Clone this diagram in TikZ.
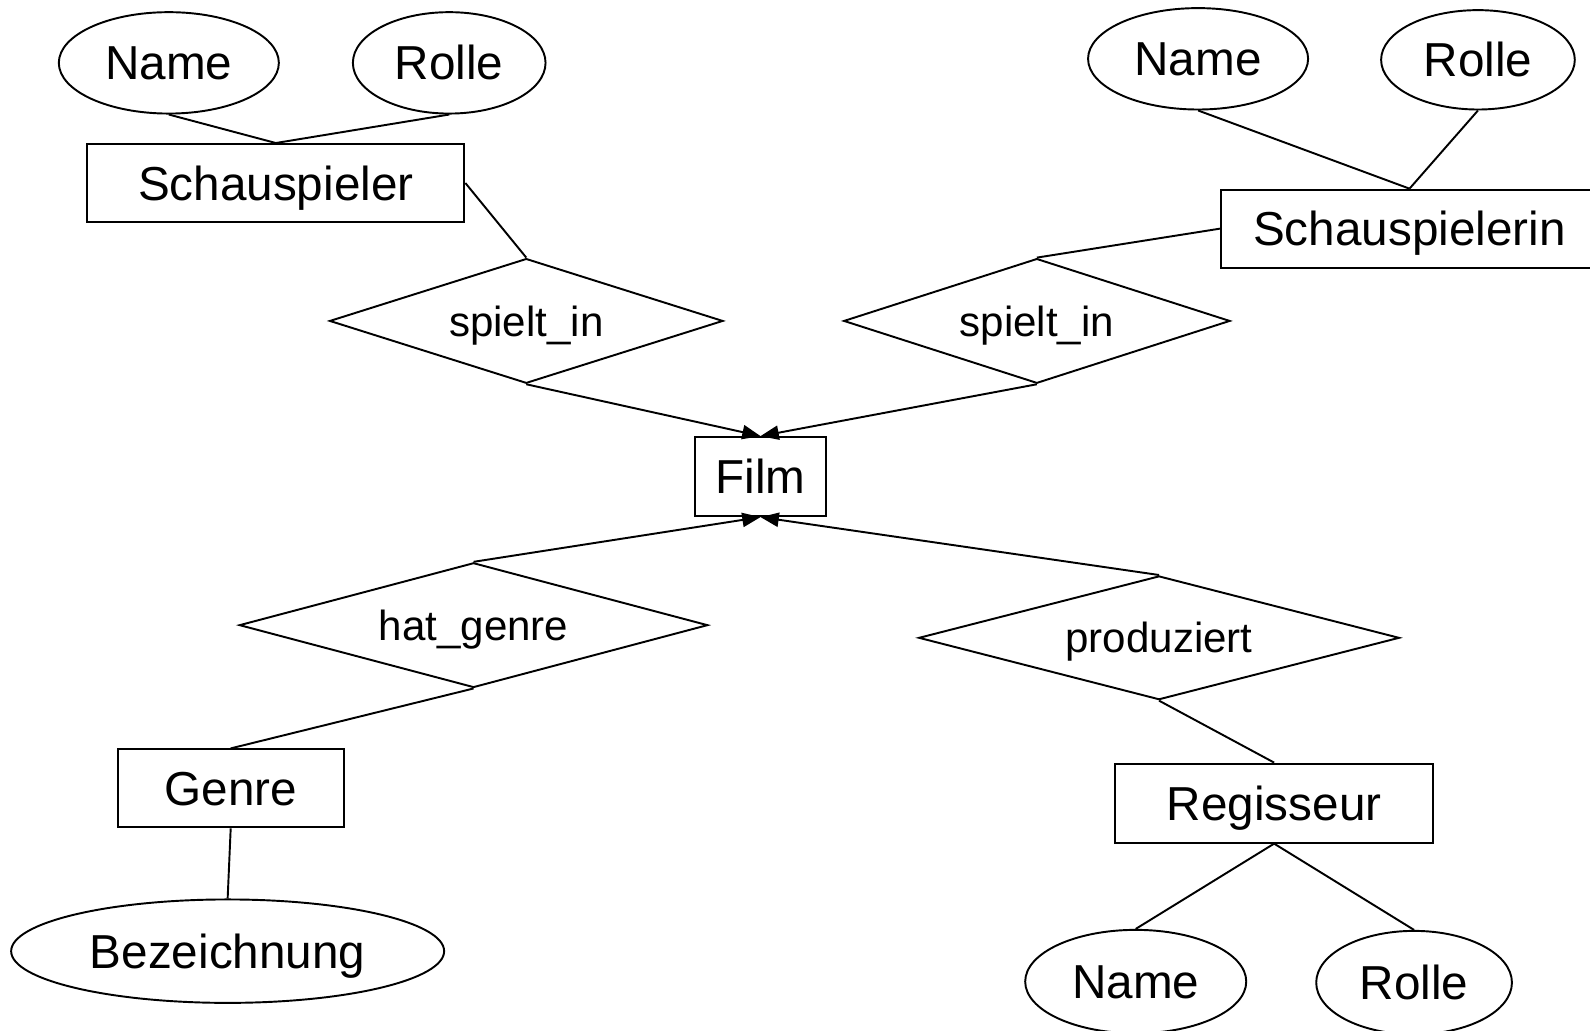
\documentclass[tikz,border=0pt]{standalone}
\usepackage{fontspec}
\setmainfont{Liberation Sans}
\usetikzlibrary{shapes.geometric,arrows.meta}
\tikzset{
  base/.style={draw, line width=0.95pt, inner sep=0pt, text depth=0pt, align=center},
  big/.style={font=\fontsize{23.5pt}{28pt}\selectfont, text height=16.8pt},
  small/.style={font=\fontsize{20.75pt}{25pt}\selectfont, text height=14.9pt},
  entity/.style={base, big, rectangle},
  attr/.style={base, big, ellipse},
  rel/.style={base, small, diamond, aspect=3.15},
  conn/.style={line width=0.95pt},
  arr/.style={line width=0.95pt, -{Triangle[length=9pt,width=7pt]}}
}
\begin{document}
\begin{tikzpicture}[x=0.5pt,y=-0.5pt]
\useasboundingbox (0,0) rectangle (1568,1016);
\node[attr, minimum width=108.5pt, minimum height=50pt] (n1) at (166.5,62) {Name};
\node[attr, minimum width=95pt, minimum height=50pt] (r1) at (443,62) {Rolle};
\node[entity, minimum width=186pt, minimum height=38.5pt] (s1) at (272,180.5) {Schauspieler};
\node[rel, minimum width=194pt, minimum height=61.5pt] (d1) at (519,316.5) {spielt\_in};
\node[entity, minimum width=186pt, minimum height=38.5pt] (s2) at (1390,225.5) {Schauspielerin};
\node[attr, minimum width=108.5pt, minimum height=50pt] (n2) at (1181.5,58) {Name};
\node[attr, minimum width=95.5pt, minimum height=49pt] (r2) at (1457.5,59) {Rolle};
\node[rel, minimum width=190.5pt, minimum height=61.5pt] (d2) at (1022.5,316.5) {spielt\_in};
\node[entity, minimum width=65pt, minimum height=39pt] (film) at (750,470) {Film};
\node[rel, minimum width=231pt, minimum height=61.5pt] (d3) at (467,616.5) {hat\_genre};
\node[entity, minimum width=111.5pt, minimum height=38.5pt] (genre) at (227.5,777.5) {Genre};
\node[attr, minimum width=213.5pt, minimum height=51pt] (bez) at (224.5,938) {Bezeichnung};
\node[rel, minimum width=237pt, minimum height=61pt] (d4) at (1143,629) {produziert};
\node[entity, minimum width=156.5pt, minimum height=39pt] (reg) at (1256.5,792) {Regisseur};
\node[attr, minimum width=109pt, minimum height=51pt] (n3) at (1120,968) {Name};
\node[attr, minimum width=96.5pt, minimum height=51pt] (r3) at (1394.5,969) {Rolle};

\draw[conn] (n1.south) -- (s1.north);
\draw[conn] (r1.south) -- (s1.north);
\draw[conn] (s1.east) -- (d1.north);
\draw[arr] (d1.south) -- (film.north);
\draw[conn] (n2.south) -- (s2.north);
\draw[conn] (r2.south) -- (s2.north);
\draw[conn] (s2.west) -- (d2.north);
\draw[arr] (d2.south) -- (film.north);
\draw[arr] (d3.north) -- (film.south);
\draw[conn] (d3.south) -- (genre.north);
\draw[conn] (genre.south) -- (bez.north);
\draw[arr] (d4.north) -- (film.south);
\draw[conn] (d4.south) -- (reg.north);
\draw[conn] (reg.south) -- (n3.north);
\draw[conn] (reg.south) -- (r3.north);
\end{tikzpicture}
\end{document}
